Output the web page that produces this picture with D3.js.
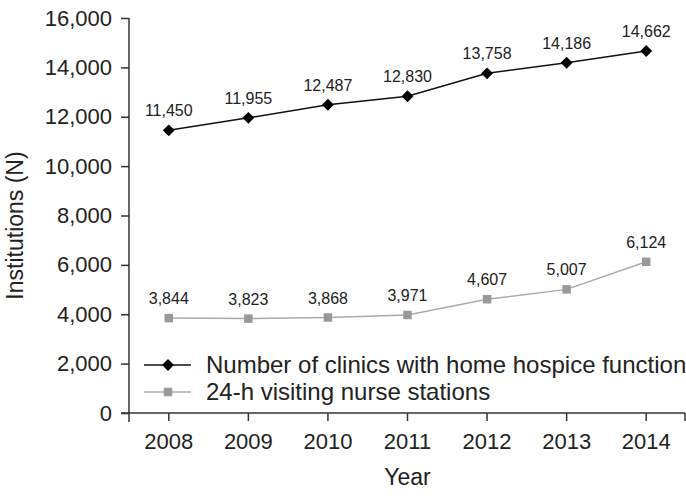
<!DOCTYPE html>
<html>
<head>
<meta charset="utf-8">
<script src="https://cdn.jsdelivr.net/npm/d3@7"></script>
<style>
  body { margin: 0; background: #fff; }
  svg text { font-family: "Liberation Sans", Arial, sans-serif; fill: #222; }
</style>
</head>
<body>
<svg id="drawing_region"></svg>
<script>
const years = ["2008", "2009", "2010", "2011", "2012", "2013", "2014"];
const clinics = [11450, 11955, 12487, 12830, 13758, 14186, 14662];
const nurseStations = [3844, 3823, 3868, 3971, 4607, 5007, 6124];
const yTicks = [0, 2000, 4000, 6000, 8000, 10000, 12000, 14000, 16000];
const seriesNames = ["Number of clinics with home hospice function", "24-h visiting nurse stations"];

const width = 686, height = 496;
const margin = { left: 129, right: 0, top: 18, bottom: 83 };

const svg = d3.select("#drawing_region")
    .attr("width", width)
    .attr("height", height);

const x = d3.scaleBand()
    .domain(years)
    .range([margin.left, width - margin.right]);

const y = d3.scaleLinear()
    .domain([0, 16000])
    .range([height - margin.bottom, margin.top]);

const fmt = d3.format(",");
const axisColor = "#333";

// y axis
const yAxis = svg.append("g")
    .attr("transform", `translate(${margin.left},0)`)
    .call(d3.axisLeft(y).tickValues(yTicks).tickSize(8).tickSizeOuter(0).tickPadding(9).tickFormat(fmt));
yAxis.select(".domain").remove();
yAxis.selectAll("line").attr("stroke", axisColor).attr("stroke-width", 1.5);
yAxis.selectAll("text").style("font-size", "22px").attr("fill", "#222");

// x axis
const xAxis = svg.append("g")
    .attr("transform", `translate(0,${y(0)})`)
    .call(d3.axisBottom(x).tickSize(8).tickSizeOuter(0).tickPadding(12));
xAxis.select(".domain").remove();
xAxis.selectAll("line").attr("stroke", axisColor).attr("stroke-width", 1.5);
xAxis.selectAll("text").style("font-size", "22px").attr("fill", "#222");

// axis lines (crossing at the origin)
svg.append("line")
    .attr("x1", margin.left).attr("x2", margin.left)
    .attr("y1", y(16000)).attr("y2", y(0) + 9)
    .attr("stroke", axisColor).attr("stroke-width", 1.5);
svg.append("line")
    .attr("x1", margin.left - 8).attr("x2", x.range()[1] - 1)
    .attr("y1", y(0)).attr("y2", y(0))
    .attr("stroke", axisColor).attr("stroke-width", 1.5);
svg.append("line")
    .attr("x1", x.range()[1] - 1).attr("x2", x.range()[1] - 1)
    .attr("y1", y(0)).attr("y2", y(0) + 8)
    .attr("stroke", axisColor).attr("stroke-width", 1.5);

// axis titles
svg.append("text")
    .attr("x", (x.range()[0] + x.range()[1]) / 2)
    .attr("y", 485)
    .attr("text-anchor", "middle")
    .style("font-size", "23px")
    .text("Year");

svg.append("text")
    .attr("transform", `translate(23,${(y(16000) + y(0)) / 2 + 10}) rotate(-90)`)
    .attr("text-anchor", "middle")
    .style("font-size", "23px")
    .text("Institutions (N)");

const cx = (d, i) => x(years[i]) + x.bandwidth() / 2;

const line = d3.line()
    .x((d, i) => cx(d, i))
    .y(d => y(d));

const diamond = d3.symbol().type(d3.symbolDiamond2).size(90);
const square = d3.symbol().type(d3.symbolSquare).size(72);

// series 2 - nurse stations (gray)
svg.append("path")
    .datum(nurseStations)
    .attr("d", line)
    .attr("fill", "none")
    .attr("stroke", "#aaa")
    .attr("stroke-width", 1.5);

svg.selectAll(".sq")
    .data(nurseStations)
    .enter()
    .append("path")
    .attr("class", "sq")
    .attr("d", square)
    .attr("transform", (d, i) => `translate(${cx(d, i)},${y(d)})`)
    .attr("fill", "#999");

// series 1 - clinics (black)
svg.append("path")
    .datum(clinics)
    .attr("d", line)
    .attr("fill", "none")
    .attr("stroke", "#111")
    .attr("stroke-width", 1.5);

svg.selectAll(".dm")
    .data(clinics)
    .enter()
    .append("path")
    .attr("class", "dm")
    .attr("d", diamond)
    .attr("transform", (d, i) => `translate(${cx(d, i)},${y(d)})`)
    .attr("fill", "#000");

// value labels
[clinics, nurseStations].forEach(series => {
    svg.append("g").selectAll("text")
        .data(series)
        .enter()
        .append("text")
        .attr("x", (d, i) => cx(d, i))
        .attr("y", d => y(d) - 14)
        .attr("text-anchor", "middle")
        .style("font-size", "16px")
        .attr("fill", "#333")
        .text(d => fmt(d));
});

// legend
const legend = svg.append("g");
const legendRows = [
    { name: seriesNames[0], color: "#111", marker: diamond, fill: "#000", y: 365 },
    { name: seriesNames[1], color: "#aaa", marker: square, fill: "#999", y: 392 }
];
legendRows.forEach(r => {
    legend.append("line")
        .attr("x1", 144).attr("x2", 191)
        .attr("y1", r.y).attr("y2", r.y)
        .attr("stroke", r.color).attr("stroke-width", 1.5);
    legend.append("path")
        .attr("d", r.marker)
        .attr("transform", `translate(168,${r.y})`)
        .attr("fill", r.fill);
    legend.append("text")
        .attr("x", 206)
        .attr("y", r.y)
        .attr("dy", "0.35em")
        .style("font-size", "24px")
        .text(r.name);
});
</script>
</body>
</html>
